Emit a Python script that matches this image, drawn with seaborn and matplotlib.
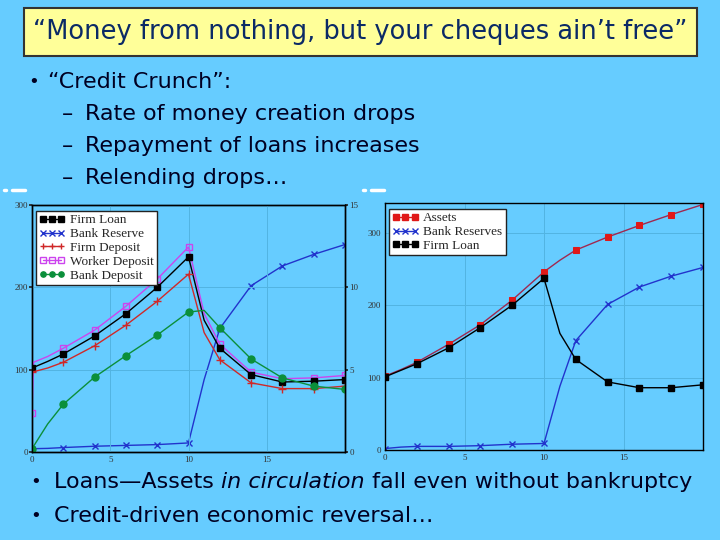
#!/usr/bin/env python3

# Credit crunch slide: two simulation charts with the slide text around them

import seaborn as sns
import matplotlib.pyplot as plt
from matplotlib.lines import Line2D
from matplotlib.patches import Rectangle

# time points (markers only at even times)
t = [0, 1, 2, 4, 6, 8, 10, 11, 12, 14, 16, 18, 20]
marked = [0, 2, 3, 4, 5, 6, 8, 9, 10, 11, 12]

# left chart
firm_loan = [102, 110, 119, 141, 168, 200, 237, 160, 126, 94, 85, 86, 88]
firm_deposit = [97, 102, 109, 129, 154, 183, 216, 145, 112, 84, 77, 77, 80]
bank_deposit = [4, 34, 58, 91, 117, 142, 170, 172, 151, 113, 90, 80, 76]
bank_reserve = [0.2, 0.22, 0.27, 0.35, 0.4, 0.45, 0.55, 4.4, 7.5, 10.1, 11.3, 12.0, 12.6]
t_worker = [0, 0.1, 1, 2, 4, 6, 8, 10, 11, 12, 14, 16, 18, 20]
worker_deposit = [47, 109, 116, 126, 148, 177, 210, 249, 168, 131, 97, 89, 90, 93]
worker_marked = [0, 3, 4, 5, 6, 7, 9, 10, 11, 12, 13]

# right chart
assets = [102, 111, 121, 146, 173, 207, 246, 262, 276, 294, 310, 325, 339]
firm_loan_r = [101, 110, 119, 141, 169, 200, 237, 161, 125, 94, 86, 86, 90]
bank_reserves = [2, 4, 5, 5, 6, 8, 9, 88, 151, 201, 225, 240, 252]

x_ticks = [0, 5, 10, 15]

BG = "#66ccff"
GRID = "#52b4e2"
BLUE = "#2233cc"
RED = "#d02828"
MAGENTA = "#cc44ee"
GREEN = "#0b8f3a"

sns.set_theme(style="white", rc={"axes.facecolor": BG, "figure.facecolor": BG})
plt.rcParams["font.family"] = ["DejaVu Sans"]

fig = plt.figure(figsize=(7.2, 5.4), dpi=100)
serif = ["Liberation Serif", "DejaVu Serif"]


def style_axes(ax):
    ax.grid(True, color=GRID, lw=0.7)
    ax.set_xlim(0, 20)
    ax.set_xticks(x_ticks)
    ax.tick_params(length=2, pad=1, labelsize=6.5, labelcolor="#333333")
    for lab in ax.get_xticklabels() + ax.get_yticklabels():
        lab.set_family(serif)
    for sp in ax.spines.values():
        sp.set_color("black")
        sp.set_linewidth(1)
    ax.set_xlabel("")
    ax.set_ylabel("")


def make_legend(ax, entries):
    handles = [Line2D([], [], color=c, marker=m, markersize=3.8, lw=1,
                      markerfacecolor=fc, markeredgecolor=c, label=l)
               for l, c, m, fc in entries]
    ax.legend(handles=handles, loc="upper left", bbox_to_anchor=(0.012, 0.976),
              borderaxespad=0, numpoints=3, handlelength=2.0, handletextpad=0.35,
              borderpad=0.25, labelspacing=0.12, fancybox=False, framealpha=1,
              edgecolor="#222222", facecolor="white",
              prop={"family": serif, "size": 9.5})


def draw(ax, x, y, color, marker, every, mfc=None, ms=5):
    sns.lineplot(x=x, y=y, ax=ax, color=color, lw=1, marker=marker, markersize=ms,
                 markerfacecolor=color if mfc is None else mfc,
                 markeredgecolor=color if mfc is None or mfc == "none" else mfc,
                 markeredgewidth=1, markevery=every)


# ---- left chart
ax = fig.add_axes([32 / 720, 1 - 452 / 540, 313 / 720, 247 / 540])
ax2 = ax.twinx()

draw(ax, t_worker, worker_deposit, MAGENTA, "s", worker_marked, mfc="none")
draw(ax, t, firm_loan, "black", "s", marked)
draw(ax, t, firm_deposit, RED, "+", marked, ms=6)
draw(ax, t, bank_deposit, GREEN, "o", marked)
draw(ax2, t, bank_reserve, BLUE, "x", marked)

ax.set_ylim(0, 300)
ax.set_yticks([0, 100, 200, 300])
ax2.set_ylim(0, 15)
ax2.set_yticks([0, 5, 10, 15])
style_axes(ax)
style_axes(ax2)
ax2.grid(False)
ax.set_zorder(ax2.get_zorder() + 1)
ax.patch.set_visible(False)
ax2.patch.set_facecolor(BG)

make_legend(ax, [("Firm Loan", "black", "s", "black"),
                 ("Bank Reserve", BLUE, "x", BLUE),
                 ("Firm Deposit", RED, "+", RED),
                 ("Worker Deposit", MAGENTA, "s", "none"),
                 ("Bank Deposit", GREEN, "o", GREEN)])

# ---- right chart
bx = fig.add_axes([385 / 720, 1 - 450 / 540, 318 / 720, 247 / 540])
sns.lineplot(x=t, y=assets, ax=bx, color="#a02850", lw=1, marker="s", markersize=5,
             markerfacecolor="#e01818", markeredgecolor="#e01818", markevery=marked)
draw(bx, t, bank_reserves, BLUE, "x", marked)
draw(bx, t, firm_loan_r, "black", "s", marked)
bx.set_ylim(0, 341)
bx.set_yticks([0, 100, 200, 300])
style_axes(bx)

make_legend(bx, [("Assets", "#e01818", "s", "#e01818"),
                 ("Bank Reserves", BLUE, "x", BLUE),
                 ("Firm Loan", "black", "s", "black")])

# ---- slide text
fig.add_artist(Rectangle((24 / 720, 1 - 56 / 540), 673 / 720, 48 / 540,
                         transform=fig.transFigure, facecolor="#ffff99",
                         edgecolor="#333333", lw=1.5))
fig.text(0.5, 1 - 32 / 540, "\u201cMoney from nothing, but your cheques ain\u2019t free\u201d",
         ha="center", va="center", fontsize=18.5, color="#0b2a66")

txt = "#000022"
fig.text(28 / 720, 1 - 82 / 540, "\u2022", fontsize=13, va="center", color=txt)
fig.text(48 / 720, 1 - 82 / 540, "\u201cCredit Crunch\u201d:", fontsize=16, va="center", color=txt)
for i, s in enumerate(["Rate of money creation drops",
                       "Repayment of loans increases",
                       "Relending drops\u2026"]):
    y = 1 - (114 + 32 * i) / 540
    fig.text(62 / 720, y, "\u2013", fontsize=16, va="center", color=txt)
    fig.text(85 / 720, y, s, fontsize=16, va="center", color=txt)

fig.text(30 / 720, 1 - 482 / 540, "\u2022", fontsize=13, va="center", color=txt)
a1 = fig.text(54 / 720, 1 - 482 / 540, "Loans\u2014Assets ", fontsize=16, va="center", color=txt)
a2 = ax.annotate("in circulation", xy=(1, 0.5), xycoords=a1, va="center",
                 fontsize=16, style="italic", color=txt, annotation_clip=False)
ax.annotate(" fall even without bankruptcy", xy=(1, 0.5), xycoords=a2, va="center",
            fontsize=16, color=txt, annotation_clip=False)
fig.text(30 / 720, 1 - 516 / 540, "\u2022", fontsize=13, va="center", color=txt)
fig.text(54 / 720, 1 - 516 / 540, "Credit-driven economic reversal\u2026", fontsize=16,
         va="center", color=txt)

# little white marks left of each chart
for x0 in (3, 362):
    fig.add_artist(Line2D([(x0 + 1) / 720, (x0 + 3) / 720], [1 - 190 / 540] * 2,
                          transform=fig.transFigure, color="white", lw=2.5))
    fig.add_artist(Line2D([(x0 + 9) / 720, (x0 + 22) / 720], [1 - 190 / 540] * 2,
                          transform=fig.transFigure, color="white", lw=2.5))

fig.savefig("out.png", dpi=100, facecolor=BG)
